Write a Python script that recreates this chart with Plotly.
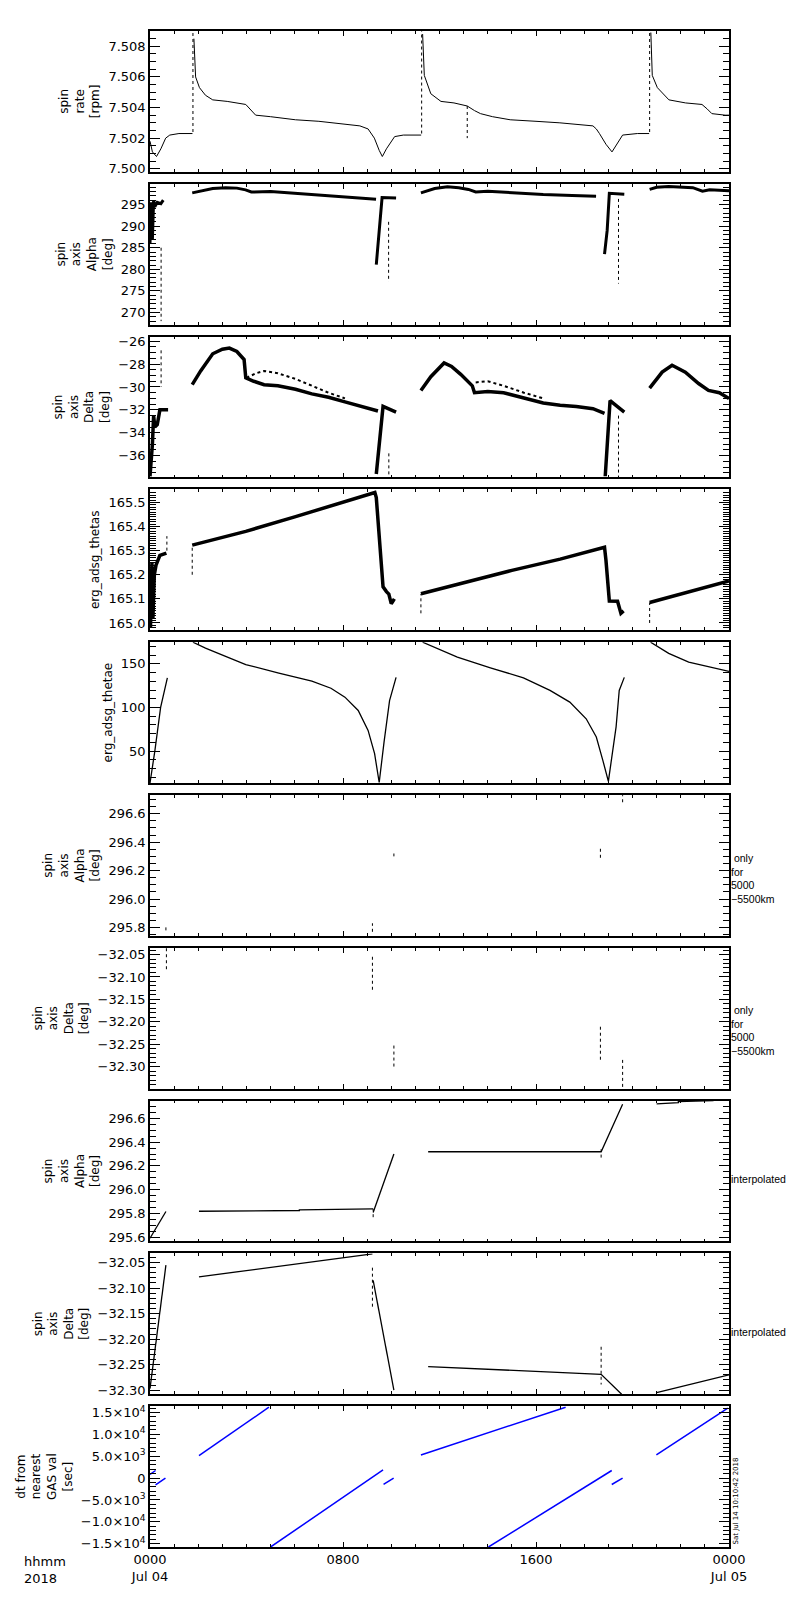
import plotly.graph_objects as go
from plotly.subplots import make_subplots

# time axis: hours after 2018-07-04 00:00, None breaks a trace into pieces

# spin rate [rpm]
rate_t = [0.0, 0.1, 0.27, 0.45, 0.65, 0.82, 1.2, 1.76, None,
          1.82, 1.89, 2.05, 2.3, 2.6, 3.2, 3.97, 4.2, 4.38, 5.0, 6.03, 7.0, 8.08, 8.7, 9.04,
          9.3, 9.5, 9.63, 9.8, 10.14, 10.5, 11.24, None,
          11.30, 11.37, 11.64, 12.06, 12.6, 13.15, 13.45, 13.70, 14.2, 14.93, 16.0, 16.99,
          18.36, 18.5, 18.63, 18.9, 19.15, 19.35, 19.59, 20.2, 20.69, None,
          20.76, 20.82, 21.03, 21.51, 22.2, 22.88, 23.1, 23.29, 23.84, 24.0]
rate_v = [7.5018, 7.5011, 7.5008, 7.5013, 7.5020, 7.5022, 7.5023, 7.5023, None,
          7.5085, 7.5060, 7.5053, 7.5048, 7.5045, 7.5044, 7.5042, 7.5038, 7.5035, 7.5034,
          7.5032, 7.5031, 7.5029, 7.5028, 7.5026, 7.5020, 7.5012, 7.5008, 7.5013, 7.5021,
          7.5022, 7.5022, None,
          7.5088, 7.5061, 7.5049, 7.5044, 7.5043, 7.5041, 7.5038, 7.5036, 7.5034, 7.5032,
          7.5031, 7.5030, 7.5028, 7.5026, 7.5023, 7.5016, 7.5011, 7.5016, 7.5022, 7.5023,
          7.5023, None,
          7.5089, 7.5061, 7.5053, 7.5045, 7.5043, 7.5042, 7.5039, 7.5036, 7.5035, 7.5035]
rate_dot_t = [1.78, 1.78, None, 11.26, 11.26, None, 20.71, 20.71, None, 13.15, 13.15]
rate_dot_v = [7.5024, 7.5090, None, 7.5023, 7.5090, None, 7.5024, 7.5090, None, 7.5041, 7.5020]

# spin axis right ascension [deg]
alpha_t = [0.0, 0.05, 0.1, 0.15, 0.2, 0.3, 0.45, 0.55, None,
           1.75, 2.2, 2.6, 3.14, 3.6, 3.96, 4.2, 5.0, 6.0, 7.0, 8.0, 9.0, 9.37, None,
           9.38, 9.62, 10.2, None,
           11.23, 11.8, 12.33, 12.8, 13.2, 13.5, 14.0, 15.0, 16.3, 17.5, 18.49, None,
           18.84, 18.95, 19.04, 19.66, None,
           20.71, 21.0, 21.5, 22.0, 22.5, 22.9, 23.2, 24.0]
alpha_v = [286, 295.5, 287, 296, 294.5, 295.5, 295.2, 296.0, None,
           297.7, 298.3, 298.7, 298.9, 298.8, 298.4, 297.9, 298.0, 297.6, 297.2, 296.9,
           296.5, 296.2, None,
           281.1, 296.6, 296.5, None,
           297.7, 298.7, 299.1, 298.9, 298.5, 297.9, 298.1, 297.7, 297.3, 297.1, 296.9, None,
           283.5, 289.0, 297.6, 297.4, None,
           298.5, 299.0, 299.2, 299.1, 298.9, 298.1, 298.4, 298.2]
alpha_dot_t = [0.46, 0.46, None, 9.89, 9.89, None, 19.42, 19.42]
alpha_dot_v = [285.0, 268.0, None, 291.0, 277.1, None, 296.3, 276.7]

# spin axis declination [deg]
delta_t = [0.0, 0.1, 0.15, 0.2, 0.3, 0.41, 0.75, None,
           1.75, 2.1, 2.6, 3.0, 3.29, 3.6, 3.9, 3.97, 4.3, 4.73, 5.3, 6.03, 6.71, 7.4, 8.08,
           8.8, 9.45, None,
           9.38, 9.66, 10.2, None,
           11.23, 11.64, 12.19, 12.5, 12.88, 13.36, 13.45, 14.0, 14.66, 15.5, 16.30, 17.0,
           17.67, 18.36, 18.84, None,
           18.87, 19.07, 19.66, None,
           20.71, 21.23, 21.64, 22.19, 22.74, 23.15, 23.6, 24.0]
delta_v = [-37.8, -35.0, -32.5, -33.5, -33.3, -32.0, -32.0, None,
           -29.8, -28.6, -27.1, -26.7, -26.6, -26.9, -27.6, -29.2, -29.5, -29.8, -29.9,
           -30.2, -30.6, -30.9, -31.3, -31.7, -32.1, None,
           -37.6, -31.7, -32.2, None,
           -30.3, -29.1, -27.9, -28.2, -28.9, -29.9, -30.5, -30.4, -30.5, -31.0, -31.4,
           -31.6, -31.7, -31.9, -32.3, None,
           -37.8, -31.2, -32.2, None,
           -30.1, -28.7, -28.1, -28.7, -29.7, -30.3, -30.5, -31.0]
delta_cloud_t = [4.0, 4.4, 4.73, 5.3, 6.03, 6.71, 7.4, 8.08, None,
                 13.5, 14.0, 14.66, 15.5, 16.3]
delta_cloud_v = [-29.2, -28.8, -28.6, -28.8, -29.3, -29.9, -30.5, -31.0, None,
                 -29.6, -29.5, -29.9, -30.5, -31.0]
delta_dot_t = [0.46, 0.46, None, 9.9, 9.9, None, 19.42, 19.42]
delta_dot_v = [-26.8, -30.0, None, -35.8, -37.9, None, -32.5, -37.9]

# erg_adsg_thetas
thetas_t = [0.02, 0.08, 0.12, 0.18, 0.25, 0.41, 0.68, None,
            1.75, 3.97, 6.0, 8.0, 9.32, 9.38, 9.50, 9.66, 9.8, 9.9, 10.0, 10.13, None,
            11.23, 13.0, 15.0, 17.0, 18.84, 18.90, 19.04, 19.38, 19.52, 19.63, None,
            20.71, 22.0, 23.0, 24.0]
thetas_v = [164.98, 165.25, 165.02, 165.20, 165.24, 165.28, 165.29, None,
            165.323, 165.38, 165.44, 165.50, 165.541, 165.52, 165.35, 165.15, 165.13,
            165.12, 165.08, 165.10, None,
            165.121, 165.167, 165.218, 165.265, 165.314, 165.26, 165.091, 165.09, 165.04,
            165.05, None,
            165.085, 165.12, 165.145, 165.174]
thetas_dot_t = [1.75, 1.75, None, 11.23, 11.23, None, 20.71, 20.71, None, 0.7, 0.7]
thetas_dot_v = [165.20, 165.32, None, 165.04, 165.12, None, 165.00, 165.085, None, 165.30, 165.36]

# erg_adsg_thetae
thetae_t = [0.0, 0.2, 0.44, 0.6, 0.72, None,
            1.78, 2.3, 2.88, 3.97, 5.34, 6.71, 7.5, 8.08, 8.63, 9.04, 9.31, 9.5, 9.7, 9.93,
            10.2, None,
            11.30, 12.0, 12.74, 14.11, 15.48, 16.58, 17.40, 18.08, 18.5, 18.77, 19.0, 19.32,
            19.45, 19.66, None,
            20.75, 21.5, 22.33, 23.2, 24.0]
thetae_v = [13.4, 50, 100, 118, 134, None,
            174.8, 168, 161.4, 149.2, 139.3, 130.1, 122, 111.8, 96.6, 73.7, 47, 14, 60, 107.9,
            134.5, None,
            174.8, 166, 157.6, 145.4, 134, 119.5, 106.1, 87, 66.1, 39.4, 15.3, 77.8, 119.5,
            134.5, None,
            174.8, 162, 151.9, 146, 141.3]

# alpha / delta only for 5000-5500 km
alpha_alt_t = [0.66, 0.66, None, 9.22, 9.22, None, 10.11, 10.11, None, 18.67, 18.67, None, 19.59, 19.59]
alpha_alt_v = [295.78, 295.82, None, 295.77, 295.83, None, 296.30, 296.32, None, 296.29, 296.36, None, 296.68, 296.73]
delta_alt_t = [0.68, 0.68, None, 9.22, 9.22, None, 10.11, 10.11, None, 18.67, 18.67, None, 19.59, 19.59]
delta_alt_v = [-32.036, -32.087, None, -32.055, -32.133, None, -32.253, -32.30, None,
               -32.211, -32.288, None, -32.285, -32.349]

# interpolated alpha / delta
alpha_int_t = [0.0, 0.66, None, 2.03, 3.1, 3.1, 6.19, 6.19, 9.25, None, 9.25, 10.11, None,
               11.53, 18.70, 19.59, None, 21.0, 21.9, 21.9, 23.36]
alpha_int_v = [295.594, 295.818, None, 295.82, 295.82, 295.826, 295.826, 295.832, 295.84, None,
               295.81, 296.30, None, 296.319, 296.319, 296.717, None, 296.72, 296.73, 296.74, 296.748]
alpha_int_dot_t = [9.25, 9.25, None, 18.70, 18.70]
alpha_int_dot_v = [295.77, 295.84, None, 296.27, 296.34]
delta_int_t = [0.0, 0.66, None, 2.03, 9.22, None, 9.25, 10.11, None,
               11.53, 18.70, 19.55, None, 21.0, 24.0]
delta_int_v = [-32.297, -32.055, None, -32.078, -32.033, None, -32.085, -32.30, None,
               -32.254, -32.269, -32.308, None, -32.305, -32.27]
delta_int_dot_t = [9.22, 9.22, None, 18.70, 18.70]
delta_int_dot_v = [-32.06, -32.14, None, -32.215, -32.289]

# dt from nearest GAS value [sec]
dt_t = [0.0, 0.23, None, 0.23, 0.64, None, 2.03, 4.93, None, 5.0, 9.66, None, 9.68, 10.10, None,
        11.23, 17.23, None, 14.03, 19.14, None, 19.14, 19.59, None, 20.99, 23.95]
dt_v = [822, 1735, None, -1530, 0, None, 5160, 16200, None, -15750, 1895, None, -1460, 0, None,
        5300, 16200, None, -15750, 1735, None, -1460, 0, None, 5320, 16000]

dt_tickvals = [-15000, -10000, -5000, 0, 5000, 10000, 15000]
dt_ticktext = ["\u22121.5\u00d710<sup>4</sup>", "\u22121.0\u00d710<sup>4</sup>",
               "\u22125.0\u00d710<sup>3</sup>", "0", "5.0\u00d710<sup>3</sup>",
               "1.0\u00d710<sup>4</sup>", "1.5\u00d710<sup>4</sup>"]

time_tickvals = [0, 8, 16, 24]
time_ticktext = ["0000<br>Jul 04", "0800", "1600", "0000<br>Jul 05"]

TITLES = [
    "spin<br>rate<br>[rpm]",
    "spin<br>axis<br>Alpha<br>[deg]",
    "spin<br>axis<br>Delta<br>[deg]",
    "erg_adsg_thetas",
    "erg_adsg_thetae",
    "spin<br>axis<br>Alpha<br>[deg]",
    "spin<br>axis<br>Delta<br>[deg]",
    "spin<br>axis<br>Alpha<br>[deg]",
    "spin<br>axis<br>Delta<br>[deg]",
    "dt from<br>nearest<br>GAS val<br>[sec]",
]

# (t, v, line width, dash, colour) per panel
TRACES = [
    [(rate_t, rate_v, 1, "solid", "black"), (rate_dot_t, rate_dot_v, 1, "dot", "black")],
    [(alpha_t, alpha_v, 3, "solid", "black"), (alpha_dot_t, alpha_dot_v, 1, "dot", "black")],
    [(delta_t, delta_v, 3.5, "solid", "black"), (delta_cloud_t, delta_cloud_v, 2, "dot", "black"),
     (delta_dot_t, delta_dot_v, 1, "dot", "black")],
    [(thetas_t, thetas_v, 3.5, "solid", "black"), (thetas_dot_t, thetas_dot_v, 1, "dot", "black")],
    [(thetae_t, thetae_v, 1.3, "solid", "black")],
    [(alpha_alt_t, alpha_alt_v, 1, "dot", "black")],
    [(delta_alt_t, delta_alt_v, 1, "dot", "black")],
    [(alpha_int_t, alpha_int_v, 1.3, "solid", "black"), (alpha_int_dot_t, alpha_int_dot_v, 1, "dot", "black")],
    [(delta_int_t, delta_int_v, 1.3, "solid", "black"), (delta_int_dot_t, delta_int_dot_v, 1, "dot", "black")],
    [(dt_t, dt_v, 1.5, "solid", "#0000ff")],
]

Y_AXES = [
    dict(range=[7.4998, 7.5090], tick0=7.5, dtick=0.002, tickformat=".3f", minor=0.0005),
    dict(range=[267.2, 299.8], tick0=0, dtick=5, tickformat="d", minor=1),
    dict(range=[-37.9, -25.6], tick0=0, dtick=2, tickformat="d", minor=0.5),
    dict(range=[164.97, 165.554], tick0=165, dtick=0.1, tickformat=".1f", minor=0.01),
    dict(range=[13.4, 174.8], tick0=0, dtick=50, tickformat="d", minor=10),
    dict(range=[295.742, 296.731], tick0=295.8, dtick=0.2, tickformat=".1f", minor=0.05),
    dict(range=[-32.349, -32.035], tick0=-32.3, dtick=0.05, tickformat=".2f", minor=0.01),
    dict(range=[295.567, 296.748], tick0=295.6, dtick=0.2, tickformat=".1f", minor=0.05),
    dict(range=[-32.308, -32.032], tick0=-32.3, dtick=0.05, tickformat=".2f", minor=0.01),
    dict(range=[-15753, 16438], tick0=0, dtick=5000, tickformat="d", minor=1000),
]

FONT = "DejaVu Sans"
NOTE_FONT = "Liberation Sans"
N = len(TITLES)

fig = make_subplots(rows=N, cols=1, vertical_spacing=12 / 1516)

for i in range(N):
    row = i + 1
    for t, v, w, dash, color in TRACES[i]:
        fig.add_trace(
            go.Scatter(x=t, y=v, mode="lines", line=dict(color=color, width=w, dash=dash),
                       showlegend=False, hoverinfo="skip"),
            row=row, col=1,
        )

    fig.update_xaxes(
        range=[0, 24],
        tickmode="array",
        tickvals=time_tickvals,
        ticktext=time_ticktext,
        showticklabels=(row == N),
        ticks="inside", ticklen=5, tickwidth=1, tickcolor="black",
        minor=dict(tickmode="linear", tick0=0, dtick=1, ticks="inside", ticklen=3, tickcolor="black"),
        showline=True, linecolor="black", linewidth=1.5, mirror="ticks",
        showgrid=False, zeroline=False,
        tickfont=dict(family=FONT, size=13, color="black"),
        row=row, col=1,
    )

    ax = Y_AXES[i]
    yopts = dict(
        range=ax["range"],
        ticks="inside", ticklen=10, tickwidth=1, tickcolor="black",
        minor=dict(tickmode="linear", tick0=ax["tick0"], dtick=ax["minor"], ticks="inside",
                   ticklen=6, tickcolor="black"),
        showline=True, linecolor="black", linewidth=1.5, mirror="ticks",
        showgrid=False, zeroline=False,
        tickfont=dict(family=FONT, size=13, color="black"),
        title=dict(text=TITLES[i], font=dict(family=FONT, size=12, color="black"), standoff=6),
    )
    if row == N:
        yopts.update(tickmode="array", tickvals=dt_tickvals, ticktext=dt_ticktext)
    else:
        yopts.update(tickmode="linear", tick0=ax["tick0"], dtick=ax["dtick"], tickformat=ax["tickformat"])
    fig.update_yaxes(row=row, col=1, **yopts)

# right-hand notes
notes = [(6, " only<br>for<br>5000<br>\u22125500km", 0.41),
         (7, " only<br>for<br>5000<br>\u22125500km", 0.41),
         (8, "interpolated", 0.445),
         (9, "interpolated", 0.445)]
for row, text, ypos in notes:
    fig.add_annotation(
        text=text, xref="paper", x=1.0, xanchor="left", xshift=0,
        yref=f"y{row} domain", y=ypos, yanchor="middle",
        showarrow=False, align="left",
        font=dict(family=NOTE_FONT, size=10.5, color="black"),
    )

fig.add_annotation(
    text="hhmm<br>2018", xref="paper", x=-0.221, xanchor="left",
    yref="paper", y=0.0, yshift=-5, yanchor="top", showarrow=False, align="left",
    font=dict(family=FONT, size=13, color="black"),
)
fig.add_annotation(
    text="Sat Jul 14 10:10:42 2018", textangle=-90,
    xref="paper", x=1.0, xanchor="left", xshift=0,
    yref="y10 domain", y=0.0, yanchor="bottom", showarrow=False,
    font=dict(family=FONT, size=7, color="black"),
)

fig.update_layout(
    width=800, height=1600,
    margin=dict(l=137, r=79, t=23, b=61),
    plot_bgcolor="white", paper_bgcolor="white",
    showlegend=False,
    font=dict(family=FONT, color="black"),
)

fig.write_html("out.html")
